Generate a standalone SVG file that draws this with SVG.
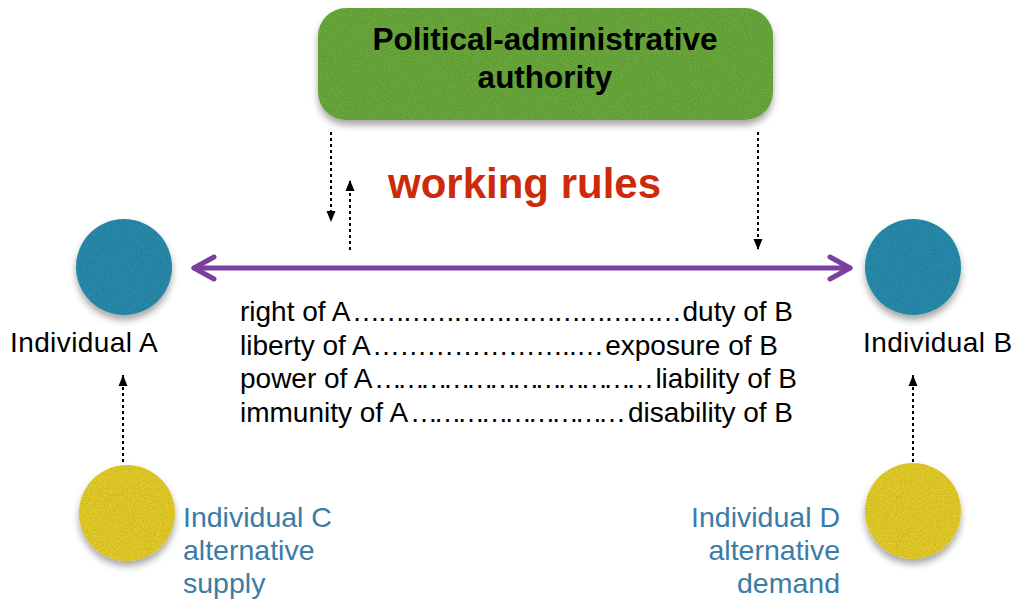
<svg xmlns="http://www.w3.org/2000/svg" width="1014" height="602" viewBox="0 0 1014 602">
  <defs>
    <style>
      .lbl { font-family: "Liberation Sans", Arial, Helvetica, sans-serif; fill: #000; }
      .tbl { font-family: "Liberation Sans", Arial, Helvetica, sans-serif; font-size: 28px; fill: #000; }
      .alt { font-family: "Liberation Sans", Arial, Helvetica, sans-serif; font-size: 28.5px; fill: #3a7ca5; }
      .dash { fill: none; stroke: #000; stroke-width: 2; stroke-dasharray: 3 3; marker-end: url(#tri); }
      .main { fill: none; stroke: #7b3fa0; stroke-width: 5; stroke-linecap: round; stroke-linejoin: round; }
    </style>
    <!-- felt-like grain plus soft drop shadow -->
    <filter id="felt" x="-20%" y="-20%" width="140%" height="150%">
      <feTurbulence type="fractalNoise" baseFrequency="0.85" numOctaves="2" seed="4" result="noise"/>
      <feColorMatrix in="noise" type="matrix" values="0 0 0 0 0  0 0 0 0 0  0 0 0 0 0  0.6 0 0 0 -0.2" result="grainA"/>
      <feComposite in="grainA" in2="SourceGraphic" operator="in" result="grain"/>
      <feGaussianBlur in="SourceAlpha" stdDeviation="3.5" result="blur"/>
      <feOffset in="blur" dy="5" result="off"/>
      <feFlood flood-color="#000" flood-opacity="0.35"/>
      <feComposite in2="off" operator="in" result="shadow"/>
      <feMerge>
        <feMergeNode in="shadow"/>
        <feMergeNode in="SourceGraphic"/>
        <feMergeNode in="grain"/>
      </feMerge>
    </filter>
    <marker id="tri" markerUnits="userSpaceOnUse" markerWidth="12" markerHeight="12" viewBox="0 0 12 12" refX="11" refY="6" orient="auto">
      <path d="M0,1.5 L11,6 L0,10.5 Z" fill="#000"/>
    </marker>
  </defs>

  <!-- authority box -->
  <g id="authority">
    <rect x="318" y="8" width="455" height="112" rx="28" ry="28" fill="#6aaa3c" filter="url(#felt)"/>
    <text class="lbl" x="545" y="50" font-size="31.5" font-weight="bold" text-anchor="middle">Political-administrative</text>
    <text class="lbl" x="545" y="88" font-size="31.5" font-weight="bold" text-anchor="middle">authority</text>
  </g>

  <g id="working-rules">
    <text x="388" y="198" font-family="Liberation Sans, Arial, Helvetica, sans-serif" font-size="42" font-weight="bold" fill="#cc2a0a">working rules</text>
  </g>

  <!-- individuals -->
  <g id="individual-a">
    <circle cx="124" cy="267" r="48" fill="#2b8cad" filter="url(#felt)"/>
    <text class="lbl" x="10" y="352" font-size="28" letter-spacing="0.4">Individual A</text>
  </g>
  <g id="individual-b">
    <circle cx="913" cy="267" r="48" fill="#2b8cad" filter="url(#felt)"/>
    <text class="lbl" x="863" y="352" font-size="28" letter-spacing="0.4">Individual B</text>
  </g>
  <g id="individual-c">
    <circle cx="127" cy="513" r="48" fill="#e5cd2b" filter="url(#felt)"/>
    <text class="alt" x="183" y="527">Individual C</text>
    <text class="alt" x="183" y="560">alternative</text>
    <text class="alt" x="183" y="593">supply</text>
  </g>
  <g id="individual-d">
    <circle cx="913" cy="511" r="48" fill="#e5cd2b" filter="url(#felt)"/>
    <text class="alt" x="840" y="527" text-anchor="end">Individual D</text>
    <text class="alt" x="840" y="560" text-anchor="end">alternative</text>
    <text class="alt" x="840" y="593" text-anchor="end">demand</text>
  </g>

  <!-- correlative positions of A and B -->
  <g id="relations">
    <text class="tbl" x="240" y="321">right of A</text>
    <text class="tbl" x="352" y="321" textLength="330" lengthAdjust="spacing">…………………………………</text>
    <text class="tbl" x="793" y="321" text-anchor="end">duty of B</text>

    <text class="tbl" x="240" y="355">liberty of A</text>
    <text class="tbl" x="372" y="355" textLength="232" lengthAdjust="spacing">…………………..…</text>
    <text class="tbl" x="778" y="355" text-anchor="end">exposure of B</text>

    <text class="tbl" x="240" y="388">power of A</text>
    <text class="tbl" x="374" y="388" textLength="280" lengthAdjust="spacing">………………………………</text>
    <text class="tbl" x="797" y="388" text-anchor="end">liability of B</text>

    <text class="tbl" x="240" y="422">immunity of A</text>
    <text class="tbl" x="410" y="422" textLength="216" lengthAdjust="spacing">………………………</text>
    <text class="tbl" x="793" y="422" text-anchor="end">disability of B</text>
  </g>

  <!-- connectors -->
  <g id="connectors">
    <path class="main" d="M194,268 H850"/>
    <path class="main" d="M214,257 L194,268 L214,279"/>
    <path class="main" d="M830,257 L850,268 L830,279"/>
    <path class="dash" d="M331,132 V222"/>
    <path class="dash" d="M350,250 V180"/>
    <path class="dash" d="M758,132 V250"/>
    <path class="dash" d="M123,462 V375"/>
    <path class="dash" d="M913,462 V375"/>
  </g>
</svg>
